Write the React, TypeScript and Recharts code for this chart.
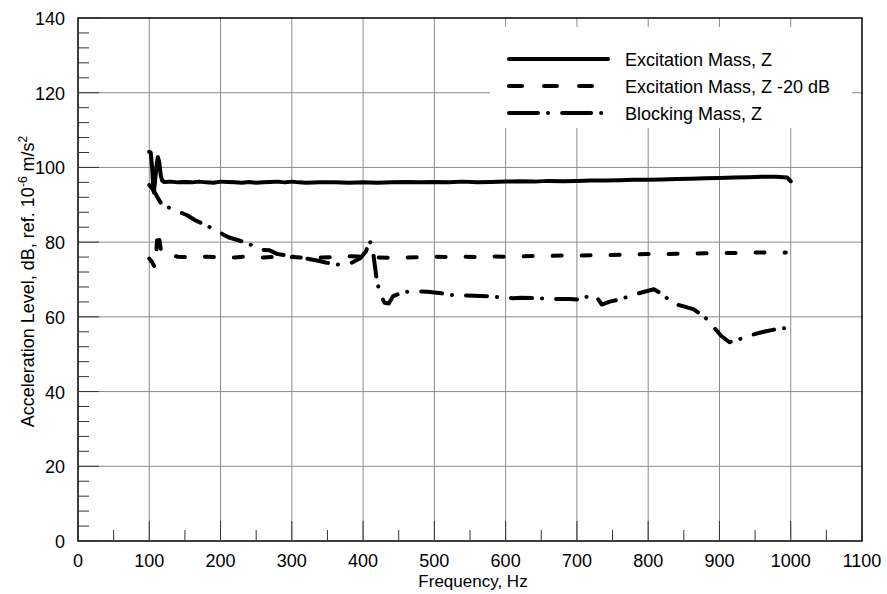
import React from 'react';
import { LineChart, Line, XAxis, YAxis, CartesianGrid, ReferenceArea } from 'recharts';

const FONT = '"Liberation Sans", Arial, Helvetica, sans-serif';

// axis ticks (minor + major), gridlines only on the majors
const xTicks = [0, 50, 100, 150, 200, 250, 300, 350, 400, 450, 500, 550, 600, 650, 700, 750, 800, 850, 900, 950, 1000, 1050, 1100];
const yTicks = [0, 4, 8, 12, 16, 20, 24, 28, 32, 36, 40, 44, 48, 52, 56, 60, 64, 68, 72, 76, 80, 84, 88, 92, 96, 100, 104, 108, 112, 116, 120, 124, 128, 132, 136, 140];
const gridHz = [100, 200, 300, 400, 500, 600, 700, 800, 900, 1000];
const gridDb = [20, 40, 60, 80, 100, 120];

const legendLabels = ['Excitation Mass, Z', 'Excitation Mass, Z -20 dB', 'Blocking Mass, Z'];

// Excitation Mass, Z
const excitationHz = [100, 102, 104, 105.5, 106.5, 108.5, 110.5, 112, 114, 116, 118, 121, 130, 140, 150, 160, 170, 180, 190, 200, 210, 220, 230, 240, 250, 260, 270, 280, 290, 300, 310, 320, 340, 360, 380, 400, 420, 440, 460, 480, 500, 520, 540, 560, 580, 600, 620, 640, 660, 680, 700, 720, 740, 760, 780, 800, 820, 840, 860, 880, 900, 920, 940, 960, 980, 995, 1000];
const excitationDb = [104.2, 104, 100, 95, 93.3, 97, 101, 102.8, 101.5, 98, 96.5, 96.1, 96.2, 96.0, 96.1, 96.0, 96.2, 96.0, 95.9, 96.2, 96.1, 96.0, 95.9, 96.1, 95.9, 96.0, 96.1, 96.2, 96.0, 96.2, 96.0, 95.9, 96.0, 96.0, 95.9, 96.0, 95.9, 96.0, 96.1, 96.0, 96.1, 96.0, 96.2, 96.0, 96.1, 96.2, 96.3, 96.2, 96.4, 96.3, 96.4, 96.5, 96.5, 96.6, 96.7, 96.7, 96.8, 96.9, 97.0, 97.1, 97.2, 97.3, 97.4, 97.5, 97.5, 97.3, 96.3];

// Excitation Mass, Z -20 dB
const reducedHz = [100, 104, 108, 110, 112, 114, 117, 122, 130, 140, 160, 180, 200, 220, 240, 260, 280, 300, 320, 340, 360, 380, 400, 420, 440, 460, 480, 500, 520, 540, 560, 580, 600, 620, 640, 660, 680, 700, 720, 740, 760, 780, 800, 820, 840, 860, 880, 900, 920, 940, 960, 980, 993];
const reducedDb = [75.6, 74.6, 73.2, 78, 83.2, 81, 77, 76.4, 76.6, 76.1, 76.0, 76.1, 76.0, 75.9, 76.2, 75.9, 76.1, 76.0, 75.8, 75.9, 76.0, 76.2, 76.1, 75.9, 75.8, 75.9, 76.0, 76.1, 76.0, 76.1, 76.0, 76.2, 76.1, 76.2, 76.3, 76.3, 76.4, 76.4, 76.5, 76.5, 76.6, 76.7, 76.8, 76.8, 76.9, 76.9, 77.0, 77.1, 77.1, 77.2, 77.2, 77.3, 77.2];

// Blocking Mass, Z
const blockingHz = [100, 104, 108, 113, 118, 125, 132, 140, 153, 165, 180, 195, 211, 225, 238, 248, 255, 269, 280, 300, 320, 337, 349, 365, 381, 396, 404, 409, 413, 416, 419, 424, 430, 436, 442, 456, 470, 490, 510, 527, 545, 565, 579, 593, 610, 622, 640, 654, 670, 690, 704, 712, 726, 735, 745, 758, 770, 785, 800, 808, 820, 836, 850, 864, 879, 893, 903, 914, 931, 948, 962, 977, 992, 1000];
const blockingDb = [95.3, 94.4, 93.2, 91.5, 90.0, 89.4, 89.0, 88.3, 87.2, 85.8, 84.5, 83.0, 81.3, 80.5, 79.7, 78.8, 78.0, 77.8, 76.8, 76.2, 75.6, 75.0, 74.5, 74.0, 74.2, 75.7, 77.5, 80.3, 79.0, 74.5, 70.0, 66.0, 63.8, 63.6, 65.5, 66.6, 66.9, 66.7, 66.3, 65.8, 65.7, 65.6, 65.5, 65.2, 65.0, 65.1, 65.0, 64.9, 64.8, 64.8, 64.6, 65.3, 65.8, 63.3, 64.0, 64.6, 65.3, 66.2, 67.0, 67.4, 66.0, 63.5, 62.8, 62.0, 60.0, 57.0, 54.8, 53.2, 54.2, 55.3, 56.0, 56.6, 57.0, 56.6];

const toPoints = (hz: number[], db: number[]) => hz.map((f, i) => ({ hz: f, db: db[i] }));

const excitation = toPoints(excitationHz, excitationDb);
const reduced = toPoints(reducedHz, reducedDb);
const blocking = toPoints(blockingHz, blockingDb);

const XTick = (props: any) => {
  const { x, y, payload } = props;
  const major = payload.value % 100 === 0;
  return (
    <g>
      <line x1={x} x2={x} y1={y} y2={y - (major ? 20 : 11)} stroke="#333" strokeWidth={1} />
      {major && (
        <text x={x} y={y + 26} textAnchor="middle" fontSize={18} fontFamily={FONT} fill="#000">
          {payload.value}
        </text>
      )}
    </g>
  );
};

const YTick = (props: any) => {
  const { x, y, payload } = props;
  const major = payload.value % 20 === 0;
  return (
    <g>
      <line x1={x} x2={x + (major ? 21 : 11)} y1={y} y2={y} stroke="#333" strokeWidth={1} />
      {major && (
        <text x={x - 13} y={y + 7} textAnchor="end" fontSize={18} fontFamily={FONT} fill="#000">
          {payload.value}
        </text>
      )}
    </g>
  );
};

const XTitle = (props: any) => {
  const { viewBox } = props;
  return (
    <text x={viewBox.x + viewBox.width / 2 + 3} y={587} textAnchor="middle" fontSize={17} fontFamily={FONT} fill="#000">
      Frequency, Hz
    </text>
  );
};

const YTitle = (props: any) => {
  const { viewBox } = props;
  const cy = viewBox.y + viewBox.height / 2 + 2;
  return (
    <text transform={`translate(34,${cy}) rotate(-90)`} textAnchor="middle" fontSize={18} fontFamily={FONT} fill="#000">
      Acceleration Level, dB, ref. 10
      <tspan fontSize={12} dy={-7}>-6</tspan>
      <tspan dy={7}> m/s</tspan>
      <tspan fontSize={12} dy={-7}>2</tspan>
    </text>
  );
};

// legend keys use longer dashes than the plotted lines
const legendDash = [undefined, '13 22', '29 10 0.1 14'];

const LegendBox = () => (
  <svg
    width={362}
    height={101}
    style={{ position: 'absolute', left: 490, top: 27, background: '#fff' }}
  >
    {legendLabels.map((label, i) => {
      const cy = 32 + i * 27;
      return (
        <g key={label}>
          <line
            x1={19}
            x2={118}
            y1={cy}
            y2={cy}
            stroke="#000"
            strokeWidth={4}
            strokeLinecap="round"
            strokeDasharray={legendDash[i]}
          />
          <text x={135} y={cy + 6.5} fontSize={18} fontFamily={FONT} fill="#000">
            {label}
          </text>
        </g>
      );
    })}
  </svg>
);

export default function App() {
  return (
    <div style={{ position: 'absolute', left: 0, top: 0, width: 887, height: 594, background: '#fff' }}>
      <LineChart width={887} height={594} margin={{ top: 18, right: 25, bottom: 0, left: 0 }}>
        <CartesianGrid stroke="#8c8c8c" strokeWidth={1} verticalValues={gridHz} horizontalValues={gridDb} />
        <XAxis
          dataKey="hz"
          type="number"
          domain={[0, 1100]}
          ticks={xTicks}
          interval={0}
          height={53}
          axisLine={false}
          tickLine={false}
          tickSize={0}
          tickMargin={0}
          tick={<XTick />}
          label={<XTitle />}
        />
        <YAxis
          type="number"
          domain={[0, 140]}
          ticks={yTicks}
          interval={0}
          width={78}
          axisLine={false}
          tickLine={false}
          tickSize={0}
          tickMargin={0}
          tick={<YTick />}
          label={<YTitle />}
        />
        <ReferenceArea x1={0} x2={1100} y1={0} y2={140} fill="none" stroke="#000" strokeWidth={1.5} ifOverflow="visible" />
        <Line
          data={excitation}
          dataKey="db"
          type="linear"
          stroke="#000"
          strokeWidth={4}
          strokeLinecap="round"
          strokeLinejoin="round"
          dot={false}
          activeDot={false}
          isAnimationActive={false}
        />
        <Line
          data={reduced}
          dataKey="db"
          type="linear"
          stroke="#000"
          strokeWidth={4}
          strokeDasharray="9 20"
          strokeLinecap="round"
          strokeLinejoin="round"
          dot={false}
          activeDot={false}
          isAnimationActive={false}
        />
        <Line
          data={blocking}
          dataKey="db"
          type="linear"
          stroke="#000"
          strokeWidth={4}
          strokeDasharray="21 10 0.1 14"
          strokeLinecap="round"
          strokeLinejoin="round"
          dot={false}
          activeDot={false}
          isAnimationActive={false}
        />
      </LineChart>
      <LegendBox />
    </div>
  );
}
